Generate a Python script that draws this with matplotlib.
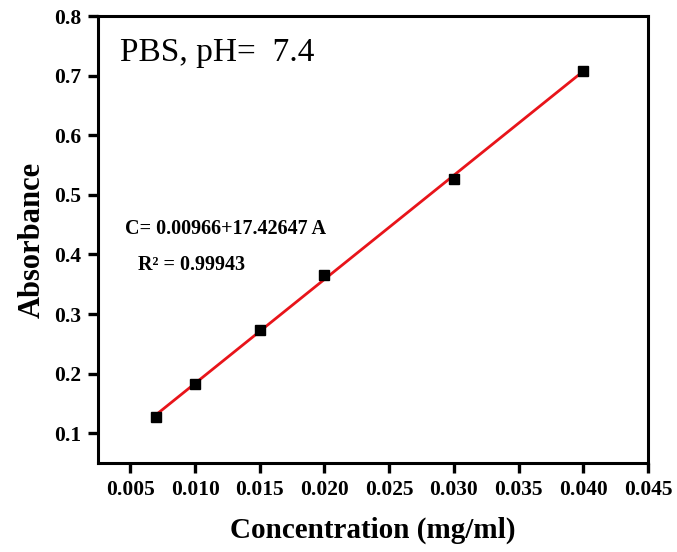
import numpy as np
import matplotlib.pyplot as plt

plt.rcParams['font.family'] = 'Liberation Serif'
plt.rcParams['font.weight'] = 'bold'

# 농도(mg/ml)와 흡광도
conc = [0.007, 0.010, 0.015, 0.020, 0.030, 0.040]
absorb = [0.128, 0.182, 0.274, 0.365, 0.527, 0.708]
xticks = [0.005, 0.010, 0.015, 0.020, 0.025, 0.030, 0.035, 0.040, 0.045]
yticks = [0.1, 0.2, 0.3, 0.4, 0.5, 0.6, 0.7, 0.8]

fig = plt.figure(figsize=(6.77, 5.52), dpi=100)
ax = fig.add_axes([0.1448, 0.1612, 0.8122, 0.8098])

# 선형 추세선
k, b = np.polyfit(conc, absorb, 1)
xs = np.array([conc[0], conc[-1]])
ax.plot(xs, k * xs + b, color='#e8141a', lw=2, zorder=2)
ax.plot(conc, absorb, 's', color='black', ms=6.5, zorder=3)

ax.set_xlim(0.0025, 0.045)
ax.set_ylim(0.05, 0.8)
ax.set_xticks(xticks)
ax.set_xticklabels(['%.3f' % v for v in xticks])
ax.set_yticks(yticks)
ax.set_yticklabels(['%.1f' % v for v in yticks])

for s in ax.spines.values():
    s.set_linewidth(2.2)
ax.tick_params(direction='out', length=7, width=2.4, labelsize=15.5, pad=5)

ax.set_xlabel('Concentration (mg/ml)', fontsize=21, fontweight='bold', labelpad=12)
ax.set_ylabel('Absorbance', fontsize=22, fontweight='bold', labelpad=5)

ax.text(0.04, 0.918, 'PBS, pH=  7.4', transform=ax.transAxes, fontsize=24,
        fontweight='normal', va='center', ha='left')
ax.text(0.049, 0.5246, 'C= 0.00966+17.42647 A', transform=ax.transAxes, fontsize=14.5,
        fontweight='bold', va='center', ha='left')
ax.text(0.073, 0.443, 'R\u00b2 = 0.99943', transform=ax.transAxes, fontsize=14.5,
        fontweight='bold', va='center', ha='left')

plt.savefig('out.png', dpi=100)
